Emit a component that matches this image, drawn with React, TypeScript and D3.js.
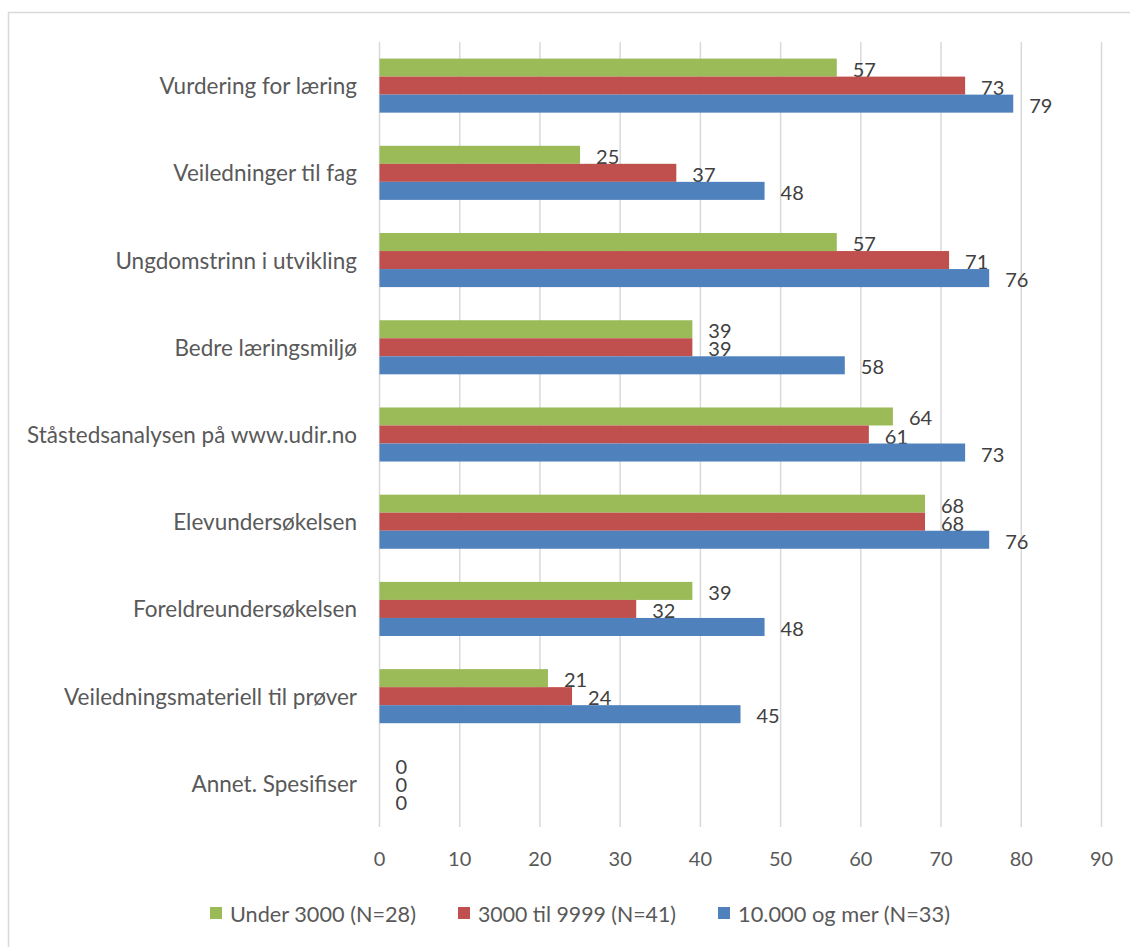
import React from "react";
import * as d3 from "d3";

const categories = [
  "Vurdering for læring",
  "Veiledninger til fag",
  "Ungdomstrinn i utvikling",
  "Bedre læringsmiljø",
  "Ståstedsanalysen på www.udir.no",
  "Elevundersøkelsen",
  "Foreldreundersøkelsen",
  "Veiledningsmateriell til prøver",
  "Annet. Spesifiser",
];
const seriesNames = ["Under 3000 (N=28)", "3000 til 9999 (N=41)", "10.000 og mer (N=33)"];
const under3000 = [57, 25, 57, 39, 64, 68, 39, 21, 0];
const mid3000to9999 = [73, 37, 71, 39, 61, 68, 32, 24, 0];
const over10000 = [79, 48, 76, 58, 73, 76, 48, 45, 0];
const xTicks = [0, 10, 20, 30, 40, 50, 60, 70, 80, 90];
const colors = ["#9BBB59", "#C0504D", "#4F81BD"];

const W = 1130;
const H = 947;
const FONT = "Lato, 'Open Sans', sans-serif";

export default function App() {
  const series = [under3000, mid3000to9999, over10000];
  const x = d3.scaleLinear().domain([0, 90]).range([379.5, 1101.5]);
  const y = d3.scaleBand<string>().domain(categories).range([42, 827]).paddingInner(0.38).paddingOuter(0.19);
  const inner = d3.scaleBand<number>().domain([0, 1, 2]).range([0, y.bandwidth()]);
  const legendX = [210, 458, 718];
  const legendLen = [186, 198, 212];

  return (
    <svg width={W} height={H} style={{ position: "absolute", left: 0, top: 0, background: "#fff" }} fontFamily={FONT}>
      <rect x={8.5} y={12.5} width={1200} height={1000} fill="#fff" stroke="#D9D9D9" strokeWidth={1.5} />
      {xTicks.map((t) => (
        <g key={t}>
          <line x1={x(t)} x2={x(t)} y1={42} y2={827} stroke="#D9D9D9" strokeWidth={1.5} />
          <text x={x(t)} y={858} textAnchor="middle" dominantBaseline="central" fontSize={20} fill="#595959">
            {t}
          </text>
        </g>
      ))}
      {categories.map((c, i) => (
        <g key={c}>
          <text
            x={357}
            y={(y(c) ?? 0) + y.bandwidth() / 2}
            textAnchor="end"
            dominantBaseline="central"
            fontSize={22.5}
            fill="#595959"
          >
            {c}
          </text>
          {series.map((s, j) => {
            const by = (y(c) ?? 0) + (inner(j) ?? 0);
            return (
              <g key={j}>
                <rect x={x(0)} y={by} width={x(s[i]) - x(0)} height={inner.bandwidth()} fill={colors[j]} />
                <text
                  x={x(s[i]) + 16}
                  y={by + inner.bandwidth() / 2 + 1}
                  dominantBaseline="central"
                  fontSize={20}
                  fill="#404040"
                >
                  {s[i]}
                </text>
              </g>
            );
          })}
        </g>
      ))}
      {seriesNames.map((n, j) => (
        <g key={n}>
          <rect x={legendX[j]} y={907} width={12} height={12} fill={colors[j]} />
          <text
            x={legendX[j] + 20}
            y={913}
            dominantBaseline="central"
            fontSize={22}
            fill="#595959"
            textLength={legendLen[j]}
            lengthAdjust="spacingAndGlyphs"
          >
            {n}
          </text>
        </g>
      ))}
    </svg>
  );
}
